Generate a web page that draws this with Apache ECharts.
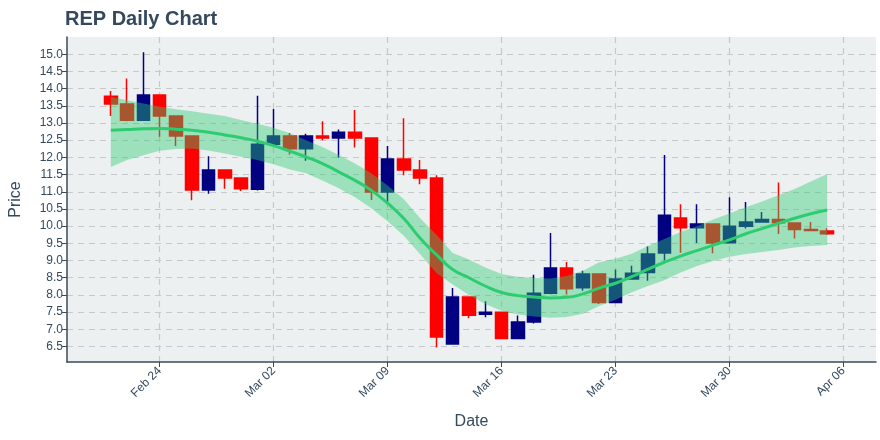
<!DOCTYPE html>
<html>
<head>
<meta charset="utf-8">
<script src="https://cdn.jsdelivr.net/npm/echarts@6/dist/echarts.min.js"></script>
<style>
  html, body { margin: 0; padding: 0; background: #fff; }
  #chart { width: 880px; height: 440px; }
</style>
</head>
<body>
<div id="chart"></div>
<script>
// daily candles, REP
var dates = [
  '2020-02-21', '2020-02-22', '2020-02-23', '2020-02-24', '2020-02-25', '2020-02-26', '2020-02-27',
  '2020-02-28', '2020-02-29', '2020-03-01', '2020-03-02', '2020-03-03', '2020-03-04', '2020-03-05',
  '2020-03-06', '2020-03-07', '2020-03-08', '2020-03-09', '2020-03-10', '2020-03-11', '2020-03-12',
  '2020-03-13', '2020-03-14', '2020-03-15', '2020-03-16', '2020-03-17', '2020-03-18', '2020-03-19',
  '2020-03-20', '2020-03-21', '2020-03-22', '2020-03-23', '2020-03-24', '2020-03-25', '2020-03-26',
  '2020-03-27', '2020-03-28', '2020-03-29', '2020-03-30', '2020-03-31', '2020-04-01', '2020-04-02',
  '2020-04-03', '2020-04-04', '2020-04-05'
];
var opens = [
  13.78, 13.55, 13.08, 13.81, 13.20, 12.62, 11.05, 11.63, 11.40, 11.07, 12.38, 12.62, 12.25, 12.62,
  12.56, 12.73, 12.56, 10.99, 11.95, 11.63, 11.40, 6.57, 7.94, 7.44, 7.50, 6.73, 7.21, 8.05,
  8.78, 8.21, 8.61, 7.78, 8.46, 8.65, 9.22, 10.24, 9.95, 10.06, 9.52, 10.00, 10.12, 10.19,
  10.09, 9.90, 9.86
];
var closes = [
  13.55, 13.08, 13.81, 13.20, 12.62, 11.05, 11.63, 11.40, 11.09, 12.38, 12.62, 12.25, 12.62, 12.56,
  12.73, 12.56, 10.99, 11.95, 11.63, 11.40, 6.78, 7.94, 7.41, 7.50, 6.73, 7.21, 8.05, 8.78,
  8.18, 8.61, 7.78, 8.46, 8.63, 9.19, 10.32, 9.95, 10.06, 9.51, 10.00, 10.12, 10.19, 10.10,
  9.90, 9.87, 9.78
];
var lows = [
  13.20, 13.05, 13.06, 12.60, 12.33, 10.75, 10.94, 11.09, 11.02, 11.04, 12.36, 12.08, 11.90, 12.50,
  11.99, 12.29, 10.76, 10.71, 11.48, 11.22, 6.47, 6.57, 7.32, 7.35, 6.73, 6.73, 7.17, 8.02,
  8.01, 8.12, 7.74, 7.78, 8.46, 8.41, 9.00, 9.23, 9.51, 9.21, 9.52, 9.93, 10.10, 9.77,
  9.64, 9.87, 9.74
];
var highs = [
  13.93, 14.29, 15.06, 13.81, 13.20, 12.62, 12.03, 11.63, 11.40, 13.79, 13.41, 12.71, 12.69, 13.05,
  12.81, 13.38, 12.56, 12.33, 13.14, 11.92, 11.48, 8.20, 7.94, 7.82, 7.50, 7.40, 8.59, 9.80,
  8.96, 8.70, 8.61, 8.74, 8.85, 9.41, 12.07, 10.64, 10.64, 10.06, 10.84, 10.70, 10.41, 11.27,
  10.09, 10.12, 9.94
];
// smoothed trend and its band
var trend = [
  12.79, 12.81, 12.83, 12.84, 12.82, 12.79, 12.73, 12.65, 12.57, 12.47, 12.34, 12.18, 12.01, 11.82,
  11.58, 11.33, 11.04, 10.67, 10.22, 9.65, 9.17, 8.74, 8.50, 8.26, 8.07, 7.98, 7.94, 7.91,
  7.93, 8.03, 8.20, 8.34, 8.53, 8.75, 8.95, 9.13, 9.29, 9.45, 9.60, 9.78, 9.93, 10.08,
  10.23, 10.36, 10.47
];
var bandUpper = [
  13.76, 13.66, 13.57, 13.47, 13.40, 13.34, 13.27, 13.20, 13.09, 12.98, 12.86, 12.70, 12.50, 12.30,
  12.07, 11.82, 11.54, 11.18, 10.78, 10.23, 9.75, 9.22, 9.03, 8.80, 8.61, 8.53, 8.49, 8.48,
  8.55, 8.70, 8.95, 9.05, 9.20, 9.42, 9.63, 9.83, 10.00, 10.19, 10.37, 10.55, 10.72, 10.90,
  11.08, 11.30, 11.52
];
var bandLower = [
  11.72, 11.92, 12.06, 12.19, 12.24, 12.26, 12.20, 12.11, 12.02, 11.92, 11.80, 11.65, 11.54, 11.33,
  11.10, 10.84, 10.52, 10.14, 9.72, 9.18, 8.64, 8.30, 8.00, 7.74, 7.54, 7.43, 7.37, 7.34,
  7.36, 7.45, 7.68, 7.86, 8.08, 8.26, 8.43, 8.65, 8.84, 8.99, 9.11, 9.19, 9.25, 9.31,
  9.38, 9.42, 9.45
];
var xTickDates = ['2020-02-24', '2020-03-02', '2020-03-09', '2020-03-16', '2020-03-23', '2020-03-30', '2020-04-06'];
var xTickLabels = ['Feb 24', 'Mar 02', 'Mar 09', 'Mar 16', 'Mar 23', 'Mar 30', 'Apr 06'];
var yTicks = [6.5, 7.0, 7.5, 8.0, 8.5, 9.0, 9.5, 10.0, 10.5, 11.0, 11.5, 12.0, 12.5, 13.0, 13.5, 14.0, 14.5, 15.0];

var textColor = '#34495e';
var axisColor = '#3b4a5a';
var gridColor = '#c6c9cc';
var font = '"Liberation Sans", Arial, sans-serif';

var origin = Date.parse('2020-02-24');
function dayOf(d) {
  return (Date.parse(d) - origin) / 86400000;
}
var xs = dates.map(dayOf);
var xTicks = xTickDates.map(dayOf);

var candles = xs.map(function (x, i) {
  return [x, opens[i], closes[i], lows[i], highs[i]];
});
var trendData = xs.map(function (x, i) { return [x, trend[i]]; });

var chart = echarts.init(document.getElementById('chart'));
var option = {
  animation: false,
  title: {
    text: 'REP Daily Chart',
    left: 60,
    top: 4,
    textStyle: { color: textColor, fontFamily: font, fontSize: 20, fontWeight: 'bold' }
  },
  grid: {
    left: 65, right: 4, top: 37, bottom: 78,
    show: true, backgroundColor: '#ecf0f1', borderWidth: 0
  },
  xAxis: {
    type: 'value',
    min: -5.69,
    max: 44,
    name: 'Date',
    nameLocation: 'middle',
    nameGap: 52,
    nameTextStyle: { color: textColor, fontFamily: font, fontSize: 16 },
    axisLine: { show: true, onZero: false, lineStyle: { color: axisColor, width: 1.5 } },
    axisTick: { show: true, length: 5, customValues: xTicks, lineStyle: { color: axisColor } },
    axisLabel: {
      customValues: xTicks,
      rotate: 45,
      margin: 7,
      color: textColor,
      fontFamily: font,
      fontSize: 12,
      formatter: function (v) {
        var i = xTicks.indexOf(v);
        return i >= 0 ? xTickLabels[i] : '';
      }
    },
    splitLine: { show: true, customValues: xTicks, lineStyle: { color: gridColor, type: [6, 5], width: 1.2 } }
  },
  yAxis: {
    type: 'value',
    min: 6.05,
    max: 15.5,
    name: 'Price',
    nameLocation: 'middle',
    nameGap: 43,
    nameTextStyle: { color: textColor, fontFamily: font, fontSize: 16 },
    axisLine: { show: true, onZero: false, lineStyle: { color: axisColor, width: 1.5 } },
    axisTick: { show: true, length: 5, customValues: yTicks, lineStyle: { color: axisColor } },
    axisLabel: {
      customValues: yTicks,
      margin: 4,
      color: textColor,
      fontFamily: font,
      fontSize: 12,
      formatter: function (v) { return v.toFixed(1); }
    },
    splitLine: { show: true, customValues: yTicks, lineStyle: { color: gridColor, type: [6, 5], width: 1.2 } }
  },
  series: [
    {
      type: 'candlestick',
      data: candles,
      encode: { x: 0, y: [1, 2, 3, 4] },
      barWidth: 13,
      z: 2,
      itemStyle: {
        color: '#000080',
        color0: '#ff0000',
        borderColor: '#000080',
        borderColor0: '#ff0000',
        borderWidth: 1.5
      }
    },
    {
      // confidence band: upper edge then lower edge back
      type: 'custom',
      data: [[0, 0]],
      z: 3,
      renderItem: function (params, api) {
        var pts = [];
        for (var i = 0; i < xs.length; i++) pts.push(api.coord([xs[i], bandUpper[i]]));
        for (var j = xs.length - 1; j >= 0; j--) pts.push(api.coord([xs[j], bandLower[j]]));
        return {
          type: 'polygon',
          shape: { points: pts },
          style: { fill: 'rgba(46,204,113,0.42)' }
        };
      }
    },
    {
      type: 'line',
      data: trendData,
      symbol: 'none',
      smooth: true,
      lineStyle: { color: '#2ecc71', width: 3 },
      z: 4
    }
  ]
};
chart.setOption(option);
</script>
</body>
</html>
